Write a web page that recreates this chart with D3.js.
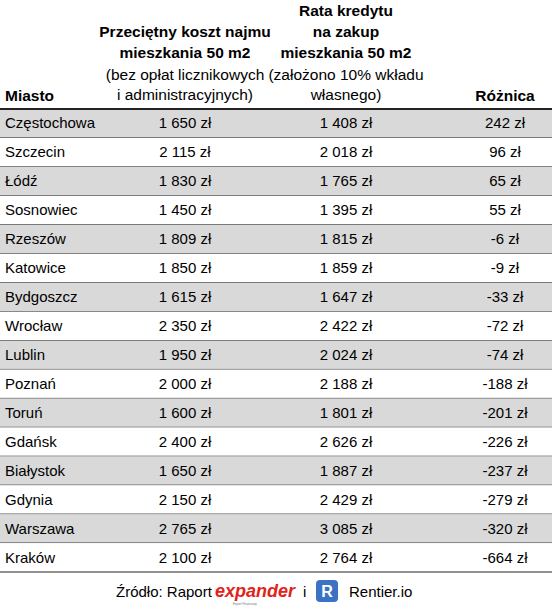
<!DOCTYPE html>
<html>
<head>
<meta charset="utf-8">
<script src="https://cdn.jsdelivr.net/npm/d3@7"></script>
<style>
  body { margin: 0; background: #fff; }
  text { font-family: "Liberation Sans", Arial, sans-serif; }
</style>
</head>
<body>
<div id="chart"></div>
<script>
var cities = ["Częstochowa","Szczecin","Łódź","Sosnowiec","Rzeszów","Katowice","Bydgoszcz","Wrocław","Lublin","Poznań","Toruń","Gdańsk","Białystok","Gdynia","Warszawa","Kraków"];
var rent = [1650,2115,1830,1450,1809,1850,1615,2350,1950,2000,1600,2400,1650,2150,2765,2100];
var loan = [1408,2018,1765,1395,1815,1859,1647,2422,2024,2188,1801,2626,1887,2429,3085,2764];
var diff = [242,96,65,55,-6,-9,-33,-72,-74,-188,-201,-226,-237,-279,-320,-664];

var W = 552, H = 613;
var svg = d3.select("#chart").append("svg").attr("width", W).attr("height", H);

function fmt(v) {
  var s = String(Math.abs(v));
  if (s.length > 3) s = s.slice(0, s.length - 3) + " " + s.slice(-3);
  return (v < 0 ? "-" : "") + s + " zł";
}

var y = d3.scaleBand().domain(d3.range(cities.length)).range([109, 572]);
var colX = [5, 185, 346, 505];

// header
var head = svg.append("g").attr("font-size", 15.5).attr("text-anchor", "middle").attr("fill", "#000");
head.append("text").attr("x", 5).attr("y", 101).attr("text-anchor", "start").attr("font-weight", "bold").text("Miasto");
[["Przeciętny koszt najmu", true, 37], ["mieszkania 50 m2", true, 58], ["(bez opłat licznikowych", false, 80], ["i administracyjnych)", false, 100]]
  .forEach(function(l) { head.append("text").attr("x", colX[1]).attr("y", l[2]).attr("font-weight", l[1] ? "bold" : "normal").text(l[0]); });
[["Rata kredytu", true, 16], ["na zakup", true, 37], ["mieszkania 50 m2", true, 58], ["(założono 10% wkładu", false, 80], ["własnego)", false, 100]]
  .forEach(function(l) { head.append("text").attr("x", colX[2]).attr("y", l[2]).attr("font-weight", l[1] ? "bold" : "normal").text(l[0]); });
head.append("text").attr("x", colX[3]).attr("y", 101).attr("font-weight", "bold").text("Różnica");

// rows
var rows = svg.selectAll("g.row").data(cities).enter().append("g").attr("class", "row")
  .attr("transform", function(d, i) { return "translate(0," + y(i) + ")"; });
rows.append("rect").attr("width", W).attr("height", y.bandwidth())
  .attr("fill", function(d, i) { return i % 2 === 0 ? "#d9d9d9" : "#fff"; });
rows.append("line").attr("x1", 0).attr("x2", W).attr("y1", y.bandwidth()).attr("y2", y.bandwidth())
  .attr("stroke", "#222").attr("stroke-width", 1);
var ty = y.bandwidth() / 2 + 5;
rows.append("text").attr("x", colX[0]).attr("y", ty).attr("font-size", 15).text(function(d) { return d; });
rows.append("text").attr("x", colX[1]).attr("y", ty).attr("font-size", 15).attr("text-anchor", "middle").text(function(d, i) { return fmt(rent[i]); });
rows.append("text").attr("x", colX[2]).attr("y", ty).attr("font-size", 15).attr("text-anchor", "middle").text(function(d, i) { return fmt(loan[i]); });
rows.append("text").attr("x", colX[3]).attr("y", ty).attr("font-size", 15).attr("text-anchor", "middle").text(function(d, i) { return fmt(diff[i]); });
svg.append("line").attr("x1", 0).attr("x2", W).attr("y1", 109).attr("y2", 109).attr("stroke", "#222").attr("stroke-width", 2);

// footer
var f = svg.append("g").attr("font-size", 15);
f.append("text").attr("x", 116).attr("y", 597).text("Źródło: Raport");
f.append("text").attr("x", 215).attr("y", 597).attr("font-size", 19).attr("font-weight", "bold").attr("font-style", "italic")
  .attr("fill", "#e2231a").attr("textLength", 80).attr("lengthAdjust", "spacingAndGlyphs").text("expander");
f.append("text").attr("x", 233).attr("y", 605).attr("font-size", 3).attr("fill", "#777").text("Expert Finansowy");
f.append("text").attr("x", 303).attr("y", 597).text("i");
f.append("rect").attr("x", 316).attr("y", 580).attr("width", 22).attr("height", 22).attr("rx", 4).attr("fill", "#3b72c4");
f.append("text").attr("x", 327).attr("y", 597).attr("text-anchor", "middle").attr("fill", "#fff").attr("font-weight", "bold").attr("font-size", 16).text("R");
f.append("text").attr("x", 349).attr("y", 597).text("Rentier.io");
</script>
</body>
</html>
